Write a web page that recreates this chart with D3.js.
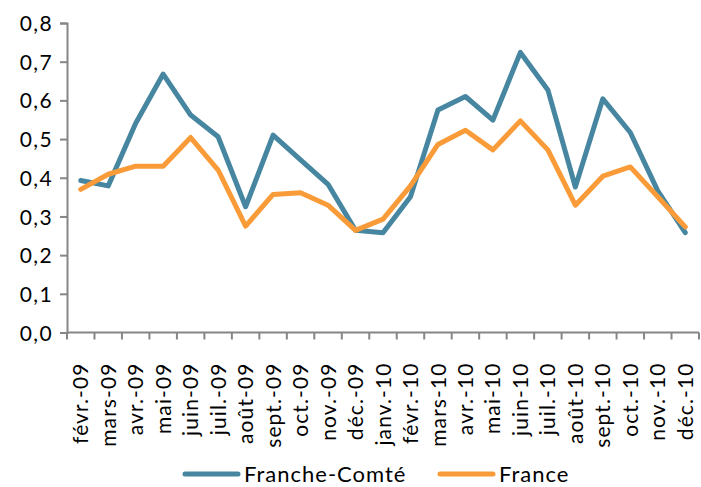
<!DOCTYPE html>
<html><head><meta charset="utf-8">
<script src="https://cdn.jsdelivr.net/npm/d3@7"></script>
<style>
html,body{margin:0;padding:0;background:#fff;}
text{font-family:Lato,"Noto Sans",sans-serif;fill:#000;}
</style></head>
<body><svg id="c" width="701" height="487"></svg>
<script>
const categories = ["févr.-09","mars-09","avr.-09","mai-09","juin-09","juil.-09","août-09","sept.-09","oct.-09","nov.-09","déc.-09","janv.-10","févr.-10","mars-10","avr.-10","mai-10","juin-10","juil.-10","août-10","sept.-10","oct.-10","nov.-10","déc.-10"];
const franchecomte = [0.393,0.379,0.541,0.668,0.562,0.506,0.325,0.510,0.446,0.383,0.264,0.258,0.351,0.575,0.610,0.549,0.724,0.627,0.376,0.604,0.517,0.366,0.258];
const france = [0.370,0.409,0.430,0.430,0.504,0.420,0.275,0.357,0.361,0.329,0.264,0.293,0.379,0.486,0.523,0.472,0.547,0.472,0.329,0.404,0.428,0.351,0.273];
const yTicks = [0,0.1,0.2,0.3,0.4,0.5,0.6,0.7,0.8];
const seriesNames = ["Franche-Comté","France"];
const colors = ["#4786A0","#F99B38"];

const svg = d3.select("#c");
const L = 67, R = 699, T = 23, B = 332.5;
const x = d3.scaleBand().domain(categories).range([L, R]);
const y = d3.scaleLinear().domain([0, 0.8]).range([B, T]);
const axisColor = "#868686";
const fmt = v => d3.format(".1f")(v).replace(".", ",");

// Y axis
const gy = svg.append("g").attr("transform", `translate(${L},0)`)
  .call(d3.axisLeft(y).tickValues(yTicks).tickFormat(fmt).tickSize(7).tickPadding(7));
gy.select(".domain").attr("stroke", axisColor).attr("stroke-width", 2);
gy.selectAll(".tick line").attr("stroke", axisColor).attr("stroke-width", 2);
gy.selectAll(".tick text").style("font-size", "21px").attr("fill", "#000")
  .style("font-family", "Lato").style("letter-spacing", "1.4px").attr("dy", "0.36em");

// X axis (ticks at band boundaries)
const gx = svg.append("g").attr("transform", `translate(0,${B})`);
gx.append("line").attr("x1", L).attr("x2", R).attr("y1", 0).attr("y2", 0)
  .attr("stroke", axisColor).attr("stroke-width", 2);
const bounds = categories.map(c => x(c)).concat([x(categories[categories.length-1]) + x.bandwidth()]);
gx.selectAll("line.tk").data(bounds).join("line").attr("class", "tk")
  .attr("x1", d => d).attr("x2", d => d).attr("y1", 0).attr("y2", 7)
  .attr("stroke", axisColor).attr("stroke-width", 2);
gx.selectAll("text").data(categories).join("text")
  .attr("transform", d => `translate(${x(d) + x.bandwidth()/2},30) rotate(-90)`)
  .attr("dy", "0.36em").attr("text-anchor", "end")
  .style("letter-spacing", "1.1px")
  .style("font-size", "21px").text(d => d);

// Lines
const line = d3.line().x((d, i) => x(categories[i]) + x.bandwidth()/2).y(d => y(d));
[franchecomte, france].forEach((s, k) => {
  svg.append("path").datum(s).attr("d", line).attr("fill", "none")
    .attr("stroke", colors[k]).attr("stroke-width", 5)
    .attr("stroke-linejoin", "round").attr("stroke-linecap", "round");
});

// Legend
const legX = [183, 438];
seriesNames.forEach((n, k) => {
  const g = svg.append("g").attr("transform", `translate(${legX[k]},474)`);
  g.append("line").attr("x1", 2).attr("x2", 55).attr("y1", 0).attr("y2", 0)
    .attr("stroke", colors[k]).attr("stroke-width", 5).attr("stroke-linecap", "round");
  g.append("text").attr("x", 61).attr("y", 8)
    .style("letter-spacing", "1px")
    .style("font-size", "22px").text(n);
});
</script></body></html>
